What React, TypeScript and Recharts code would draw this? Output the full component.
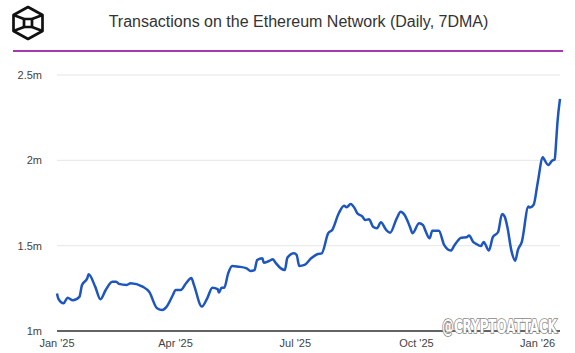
import React from "react";
import { LineChart, Line, XAxis, YAxis, CartesianGrid } from "recharts";

// days since Jan 1 2025
const days = [
  0, 1, 5, 8, 12, 17, 19, 23, 24, 29, 33, 37, 42, 45, 47, 53, 56, 65, 70, 76,
  80, 83, 88, 90, 94, 98, 102, 104, 110, 114, 118, 122, 123, 125, 127, 130, 133,
  138, 144, 147, 150, 152, 156, 157, 161, 164, 166, 170, 173, 175, 180, 182, 184,
  188, 193, 198, 201, 206, 209, 214, 218, 220, 223, 226, 228, 232, 234, 237, 240,
  243, 246, 250, 253, 258, 261, 264, 268, 270, 275, 278, 280, 283, 285, 290, 294,
  299, 302, 307, 311, 313, 316, 318, 322, 324, 328, 331, 335, 338, 340, 342, 345,
  348, 350, 353, 358, 359, 362, 365, 369, 370, 373, 376, 378, 379, 380, 382,
];

// transactions, millions (7DMA)
const txMillions = [
  1.22, 1.19, 1.162, 1.195, 1.18, 1.2, 1.27, 1.309, 1.332, 1.26, 1.186, 1.24,
  1.289, 1.289, 1.276, 1.27, 1.28, 1.26, 1.23, 1.133, 1.123, 1.14, 1.211, 1.24,
  1.24, 1.28, 1.31, 1.27, 1.143, 1.19, 1.254, 1.245, 1.225, 1.254, 1.254, 1.338,
  1.381, 1.377, 1.367, 1.352, 1.357, 1.416, 1.426, 1.4, 1.41, 1.42, 1.4, 1.367,
  1.357, 1.43, 1.455, 1.445, 1.381, 1.387, 1.426, 1.451, 1.455, 1.573, 1.592,
  1.69, 1.734, 1.725, 1.744, 1.72, 1.69, 1.67, 1.65, 1.655, 1.611, 1.602, 1.637,
  1.592, 1.576, 1.66, 1.699, 1.68, 1.611, 1.573, 1.631, 1.62, 1.584, 1.543,
  1.588, 1.588, 1.504, 1.471, 1.504, 1.547, 1.549, 1.56, 1.522, 1.512, 1.498,
  1.522, 1.471, 1.55, 1.58, 1.686, 1.67, 1.611, 1.474, 1.412, 1.474, 1.522,
  1.729, 1.723, 1.74, 1.866, 2.018, 2.006, 1.973, 1.998, 2.006, 2.1, 2.217, 2.36,
];

const xTicks = [0, 90, 181, 273, 365];
const xTickLabels = ["Jan '25", "Apr '25", "Jul '25", "Oct '25", "Jan '26"];
const yTicks = [1, 1.5, 2, 2.5];

const data = days.map((d, i) => ({ day: d, tx: txMillions[i] }));

const font = "'Liberation Sans', Arial, sans-serif";

function Logo() {
  return (
    <svg width={42} height={42} style={{ position: "absolute", left: 7, top: 2 }}>
      <g fill="none" stroke="#111" strokeWidth={2.7} strokeLinejoin="round">
        <polygon points="21,5 35.5,13 35.5,29 21,37 6.5,29 6.5,13" />
        <rect x={17} y={17} width={8} height={8} />
        <line x1={6.5} y1={13} x2={17} y2={17} />
        <line x1={35.5} y1={13} x2={25} y2={17} />
        <line x1={6.5} y1={29} x2={17} y2={25} />
        <line x1={35.5} y1={29} x2={25} y2={25} />
      </g>
    </svg>
  );
}

export default function App() {
  return (
    <div
      style={{
        position: "absolute",
        left: 0,
        top: 0,
        width: 575,
        height: 353,
        background: "#fff",
        fontFamily: font,
        overflow: "hidden",
      }}
    >
      <Logo />
      <div
        style={{
          position: "absolute",
          left: 0,
          width: 597,
          top: 13,
          textAlign: "center",
          fontSize: 16,
          color: "#333",
        }}
      >
        Transactions on the Ethereum Network (Daily, 7DMA)
      </div>
      <div
        style={{
          position: "absolute",
          left: 13,
          top: 50,
          width: 550,
          height: 1.5,
          background: "#a43aab",
        }}
      />
      <LineChart
        width={575}
        height={353}
        data={data}
        margin={{ top: 75, right: 15, bottom: 0, left: 0 }}
      >
        <CartesianGrid vertical={false} stroke="#e6e6e6" />
        <XAxis
          dataKey="day"
          type="number"
          domain={[0, 382]}
          ticks={xTicks}
          tickFormatter={(v: number) => xTickLabels[xTicks.indexOf(v)]}
          height={22}
          tickLine={false}
          axisLine={{ stroke: "#333", strokeWidth: 1.5 }}
          tick={{ fontSize: 11, fill: "#444", fontFamily: font }}
        />
        <YAxis
          type="number"
          domain={[1, 2.5]}
          ticks={yTicks}
          width={57}
          axisLine={false}
          tickLine={false}
          tickMargin={9}
          tickFormatter={(v: number) => `${v}m`}
          tick={{ fontSize: 11, fill: "#444", fontFamily: font }}
        />
        <Line
          type="monotone"
          dataKey="tx"
          stroke="#1d56bf"
          strokeWidth={2.5}
          dot={false}
          isAnimationActive={false}
        />
      </LineChart>
      <svg
        width={575}
        height={353}
        style={{ position: "absolute", left: 0, top: 0, pointerEvents: "none" }}
      >
        <g transform="translate(442 333) scale(1 1.45)">
          <text
            x={0}
            y={0}
            fontSize={13}
            fontWeight="bold"
            fontFamily="'DejaVu Sans Condensed', 'DejaVu Sans', sans-serif"
            textLength={115}
            lengthAdjust="spacingAndGlyphs"
            fill="#fff"
            stroke="#888"
            strokeWidth={1.2}
            paintOrder="stroke"
          >
            @CRYPTOATTACK
          </text>
        </g>
      </svg>
    </div>
  );
}
